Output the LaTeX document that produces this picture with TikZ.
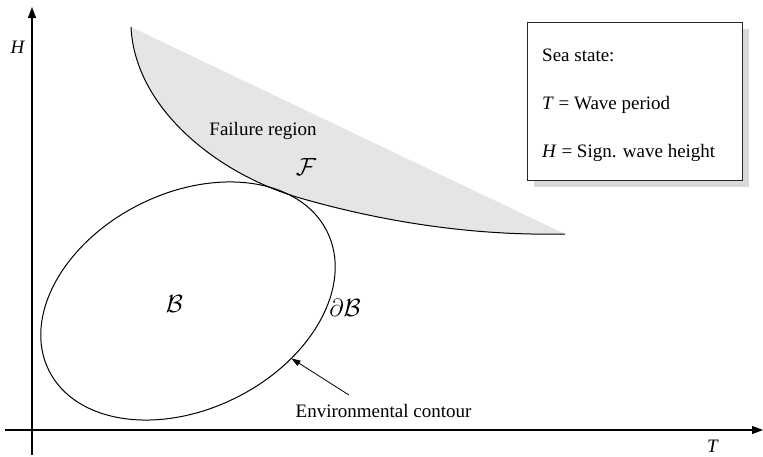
\documentclass[tikz,border=0pt]{standalone}
\usepackage{fontspec}
\setmainfont{Liberation Serif}
\usetikzlibrary{arrows.meta}
\begin{document}
\begin{tikzpicture}[x=1pt,y=-1pt,
  font=\fontsize{19}{22}\selectfont,
  axis/.style={line width=1.2pt,-{Triangle[length=11pt,width=8pt]}},
  curve/.style={line width=1pt},
  pointer/.style={line width=0.8pt,-{Triangle[length=9pt,width=6pt]}},
  lbl/.style={inner sep=0pt},
  mathlbl/.style={inner sep=0pt,font=\fontsize{25}{28}\selectfont},
  regionfill/.style={fill=black!10},
  shadowbox/.style={fill=black!15,draw=none},
  legendbox/.style={fill=white,draw=black!85,line width=1pt},
]
\useasboundingbox (0,0) rectangle (763,456);

% axes
\coordinate (o1) at (32,455);
\coordinate (htip) at (32,7);
\coordinate (o2) at (5,430);
\coordinate (ttip) at (763,430);
\draw[axis] (o1) -- (htip);
\draw[axis] (o2) -- (ttip);
\node[lbl,anchor=base] (hl) at (18,53) {\textit{H}};
\node[lbl,anchor=base] (tl) at (713,452) {\textit{T}};

% failure region
\coordinate (fa) at (131,27);
\coordinate (fm) at (300,198);
\coordinate (fb) at (565,234);
\fill[regionfill] (fa) .. controls (135,110) and (220,175) .. (fm)
  .. controls (380,221) and (470,236) .. (fb) -- cycle;
\draw[curve] (fa) .. controls (135,110) and (220,175) .. (fm)
  .. controls (380,221) and (470,236) .. (fb);
\node[lbl,anchor=base] (fr) at (263,135) {Failure region};
\node[mathlbl] (fF) at (306,167) {$\mathcal{F}$};

% environmental contour
\coordinate (ec) at (188,301);
\draw[curve,rotate around={26.6:(ec)}] (ec) ellipse [x radius=155.5pt, y radius=108pt];
\node[mathlbl] (bB) at (174.5,303.5) {$\mathcal{B}$};
\node[mathlbl] (dB) at (345,307.5) {$\partial\mathcal{B}$};
\node[lbl,anchor=base] (env) at (383.5,417) {Environmental contour};
\coordinate (atail) at (349,395);
\coordinate (atip) at (291.5,358.5);
\draw[pointer] (atail) -- (atip);

% legend
\fill[shadowbox] (534,29) rectangle (749,187);
\draw[legendbox] (527,22) rectangle (742,180);
\node[lbl,anchor=base west] (l1) at (542,61) {Sea state:};
\node[lbl,anchor=base west] (l2) at (542,109) {\textit{T} = Wave period};
\node[lbl,anchor=base west] (l3) at (542,157) {\textit{H} = Sign. wave height};
\end{tikzpicture}
\end{document}
